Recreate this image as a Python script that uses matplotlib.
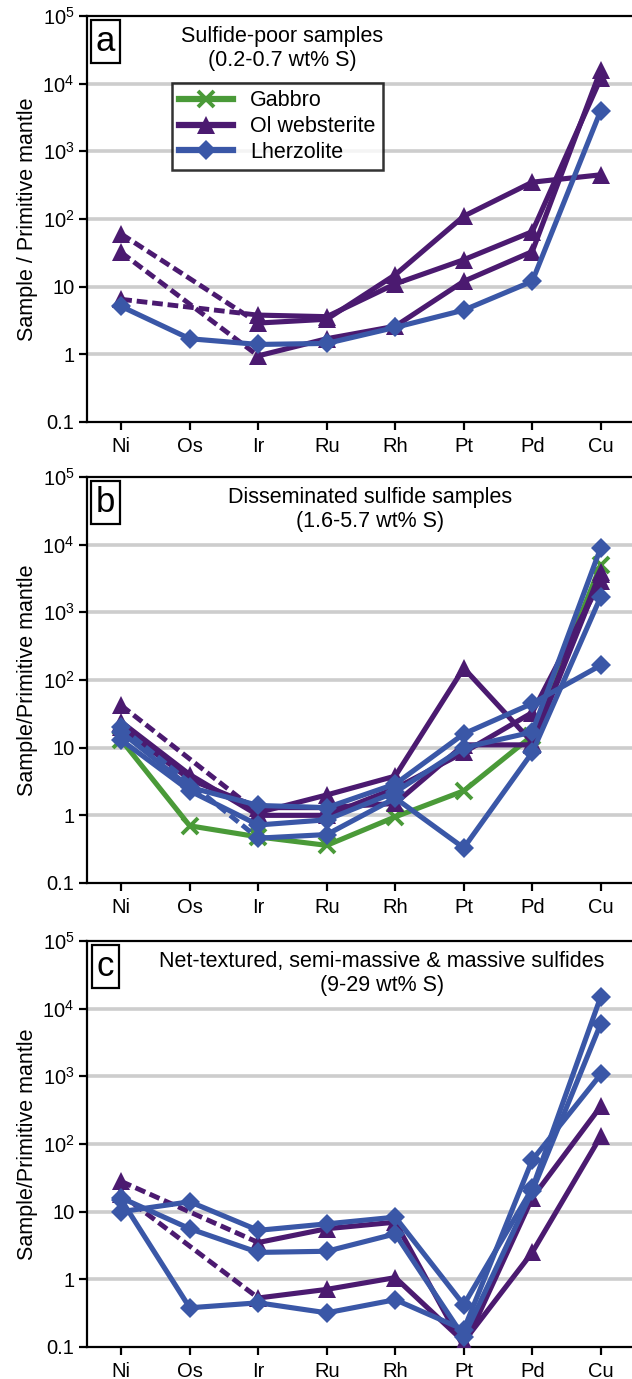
import numpy as np
import matplotlib
matplotlib.use('Agg')
import matplotlib.pyplot as plt
from matplotlib.lines import Line2D

plt.rcParams['font.family'] = ['Liberation Sans', 'DejaVu Sans']
plt.rcParams['mathtext.fontset'] = 'custom'
plt.rcParams['mathtext.rm'] = 'Liberation Sans'
plt.rcParams['mathtext.it'] = 'Liberation Sans'

nan = np.nan
elements = ['Ni', 'Os', 'Ir', 'Ru', 'Rh', 'Pt', 'Pd', 'Cu']

# panel a: sulfide-poor
a_olweb = [
    [60, nan, 2.9, 3.3, 15, 110, 350, 450],
    [6.5, nan, 3.8, 3.6, 11, 25, 65, 12000],
    [32, nan, 0.95, 1.7, 2.6, 12, 33, 16000],
]
a_lherz = [
    [5.1, 1.7, 1.4, 1.45, 2.5, 4.5, 12, 4000],
]
a_gabbro = []

# panel b: disseminated
b_gabbro = [
    [13, 0.7, 0.48, 0.36, 0.95, 2.3, 15, 5000],
]
b_olweb = [
    [42, nan, 1.1, 2.0, 3.8, 150, 12, 4000],
    [24, 4.0, 1.0, 1.0, 2.5, 8.5, 33, 2900],
    [20, 3.4, 1.3, 1.3, 1.5, 11, 11, 3700],
]
b_lherz = [
    [20, nan, 0.46, 0.52, 1.8, 0.33, 8.5, 1700],
    [13, 2.3, 0.72, 0.86, 2.2, 10, 17, 9000],
    [17, 2.6, 1.4, 1.3, 2.9, 16, 45, 165],
]

# panel c: net-textured to massive
c_gabbro = []
c_olweb = [
    [28, nan, 3.5, 5.6, 7.0, 0.1, 16, 360],
    [18, nan, 0.53, 0.71, 1.06, 0.12, 2.5, 130],
]
c_lherz = [
    [10, 14, 5.3, 6.6, 8.3, 0.42, 22, 15000],
    [16, 5.6, 2.5, 2.6, 4.7, 0.14, 20, 6000],
    [15, 0.38, 0.45, 0.32, 0.5, 0.18, 58, 1070],
]

titles = ['Sulfide-poor samples\n(0.2-0.7 wt% S)',
          'Disseminated sulfide samples\n(1.6-5.7 wt% S)',
          'Net-textured, semi-massive & massive sulfides\n(9-29 wt% S)']
ylabels = ['Sample / Primitive mantle', 'Sample/Primitive mantle',
           'Sample/Primitive mantle']
letters = ['a', 'b', 'c']
title_x = [0.356, 0.517, 0.538]

green = '#4a9a38'
purple = '#4b1a70'
blue = '#3a57a7'

styles = {
    'gabbro': dict(color=green, marker='x', ms=12, mew=2.8),
    'olweb': dict(color=purple, marker='^', ms=12.5, mew=0),
    'lherz': dict(color=blue, marker='D', ms=10.5, mew=0),
}


def draw(ax, rows, kind):
    st = styles[kind]
    for vals in rows:
        y = np.array(vals, float)
        x = np.arange(len(y))
        ax.plot(x, y, lw=3.7, color=st['color'], marker=st['marker'],
                ms=st['ms'], mew=st['mew'], mec=st['color'], zorder=3)
        # dashed link across missing elements
        idx = np.where(~np.isnan(y))[0]
        for i0, i1 in zip(idx[:-1], idx[1:]):
            if i1 - i0 > 1:
                ax.plot([x[i0], x[i1]], [y[i0], y[i1]], lw=3.5, ls=(0, (2.2, 1.0)),
                        color=st['color'], zorder=3)


W, H = 632, 1379
fig = plt.figure(figsize=(W / 100, H / 100), dpi=100)

left_px, right_px = 87, 635
tops = [16, 477, 941]
bots = [422, 883, 1347]

panels = [(a_gabbro, a_olweb, a_lherz), (b_gabbro, b_olweb, b_lherz),
          (c_gabbro, c_olweb, c_lherz)]

for k in range(3):
    ax = fig.add_axes([left_px / W, 1 - bots[k] / H, (right_px - left_px) / W,
                       (bots[k] - tops[k]) / H])
    ax.set_yscale('log')
    ax.set_ylim(0.1, 1e5)
    ax.set_xlim(-0.5, 7.5)
    for v in [1, 10, 100, 1000, 10000]:
        ax.axhline(v, color='#cdcdcd', lw=2.6, zorder=1)
    gab, olw, lhz = panels[k]
    draw(ax, gab, 'gabbro')
    draw(ax, olw, 'olweb')
    draw(ax, lhz, 'lherz')

    ax.set_yticks([0.1, 1, 10, 100, 1000, 1e4, 1e5])
    ax.set_yticklabels(['0.1', '1', '10', r'$10^2$', r'$10^3$', r'$10^4$', r'$10^5$'])
    ax.yaxis.set_minor_locator(matplotlib.ticker.NullLocator())
    ax.set_xticks(range(len(elements)))
    ax.set_xticklabels(elements)
    ax.tick_params(axis='both', labelsize=14.5, width=1.6, length=6, direction='out')
    ax.tick_params(axis='x', pad=5)
    ax.tick_params(axis='y', pad=3)
    for s in ['left', 'bottom', 'top', 'right']:
        ax.spines[s].set_linewidth(1.6)
    ax.set_ylabel(ylabels[k], fontsize=15.5, labelpad=3)

    ax.text(title_x[k], 0.975, titles[k], transform=ax.transAxes, ha='center',
            va='top', fontsize=15.5, linespacing=1.2)
    ax.text(0.034, 0.978, letters[k], transform=ax.transAxes, ha='center', va='top',
            fontsize=25,
            bbox=dict(boxstyle='square,pad=0.14', fc='white', ec='black', lw=1.6))

    if k == 0:
        handles = [
            Line2D([], [], lw=4.5, color=green, marker='x', ms=12, mew=2.8),
            Line2D([], [], lw=4.5, color=purple, marker='^', ms=12.5, mew=0),
            Line2D([], [], lw=4.5, color=blue, marker='D', ms=10.5, mew=0),
        ]
        leg = ax.legend(handles, ['Gabbro', 'Ol websterite', 'Lherzolite'],
                        loc='upper left', bbox_to_anchor=(0.135, 0.862),
                        fontsize=15.5, frameon=True, fancybox=False,
                        edgecolor='black', handlelength=2.5, borderpad=0.35,
                        labelspacing=0.22, handletextpad=0.8)
        leg.get_frame().set_linewidth(1.8)

fig.savefig('out.png', dpi=100)
